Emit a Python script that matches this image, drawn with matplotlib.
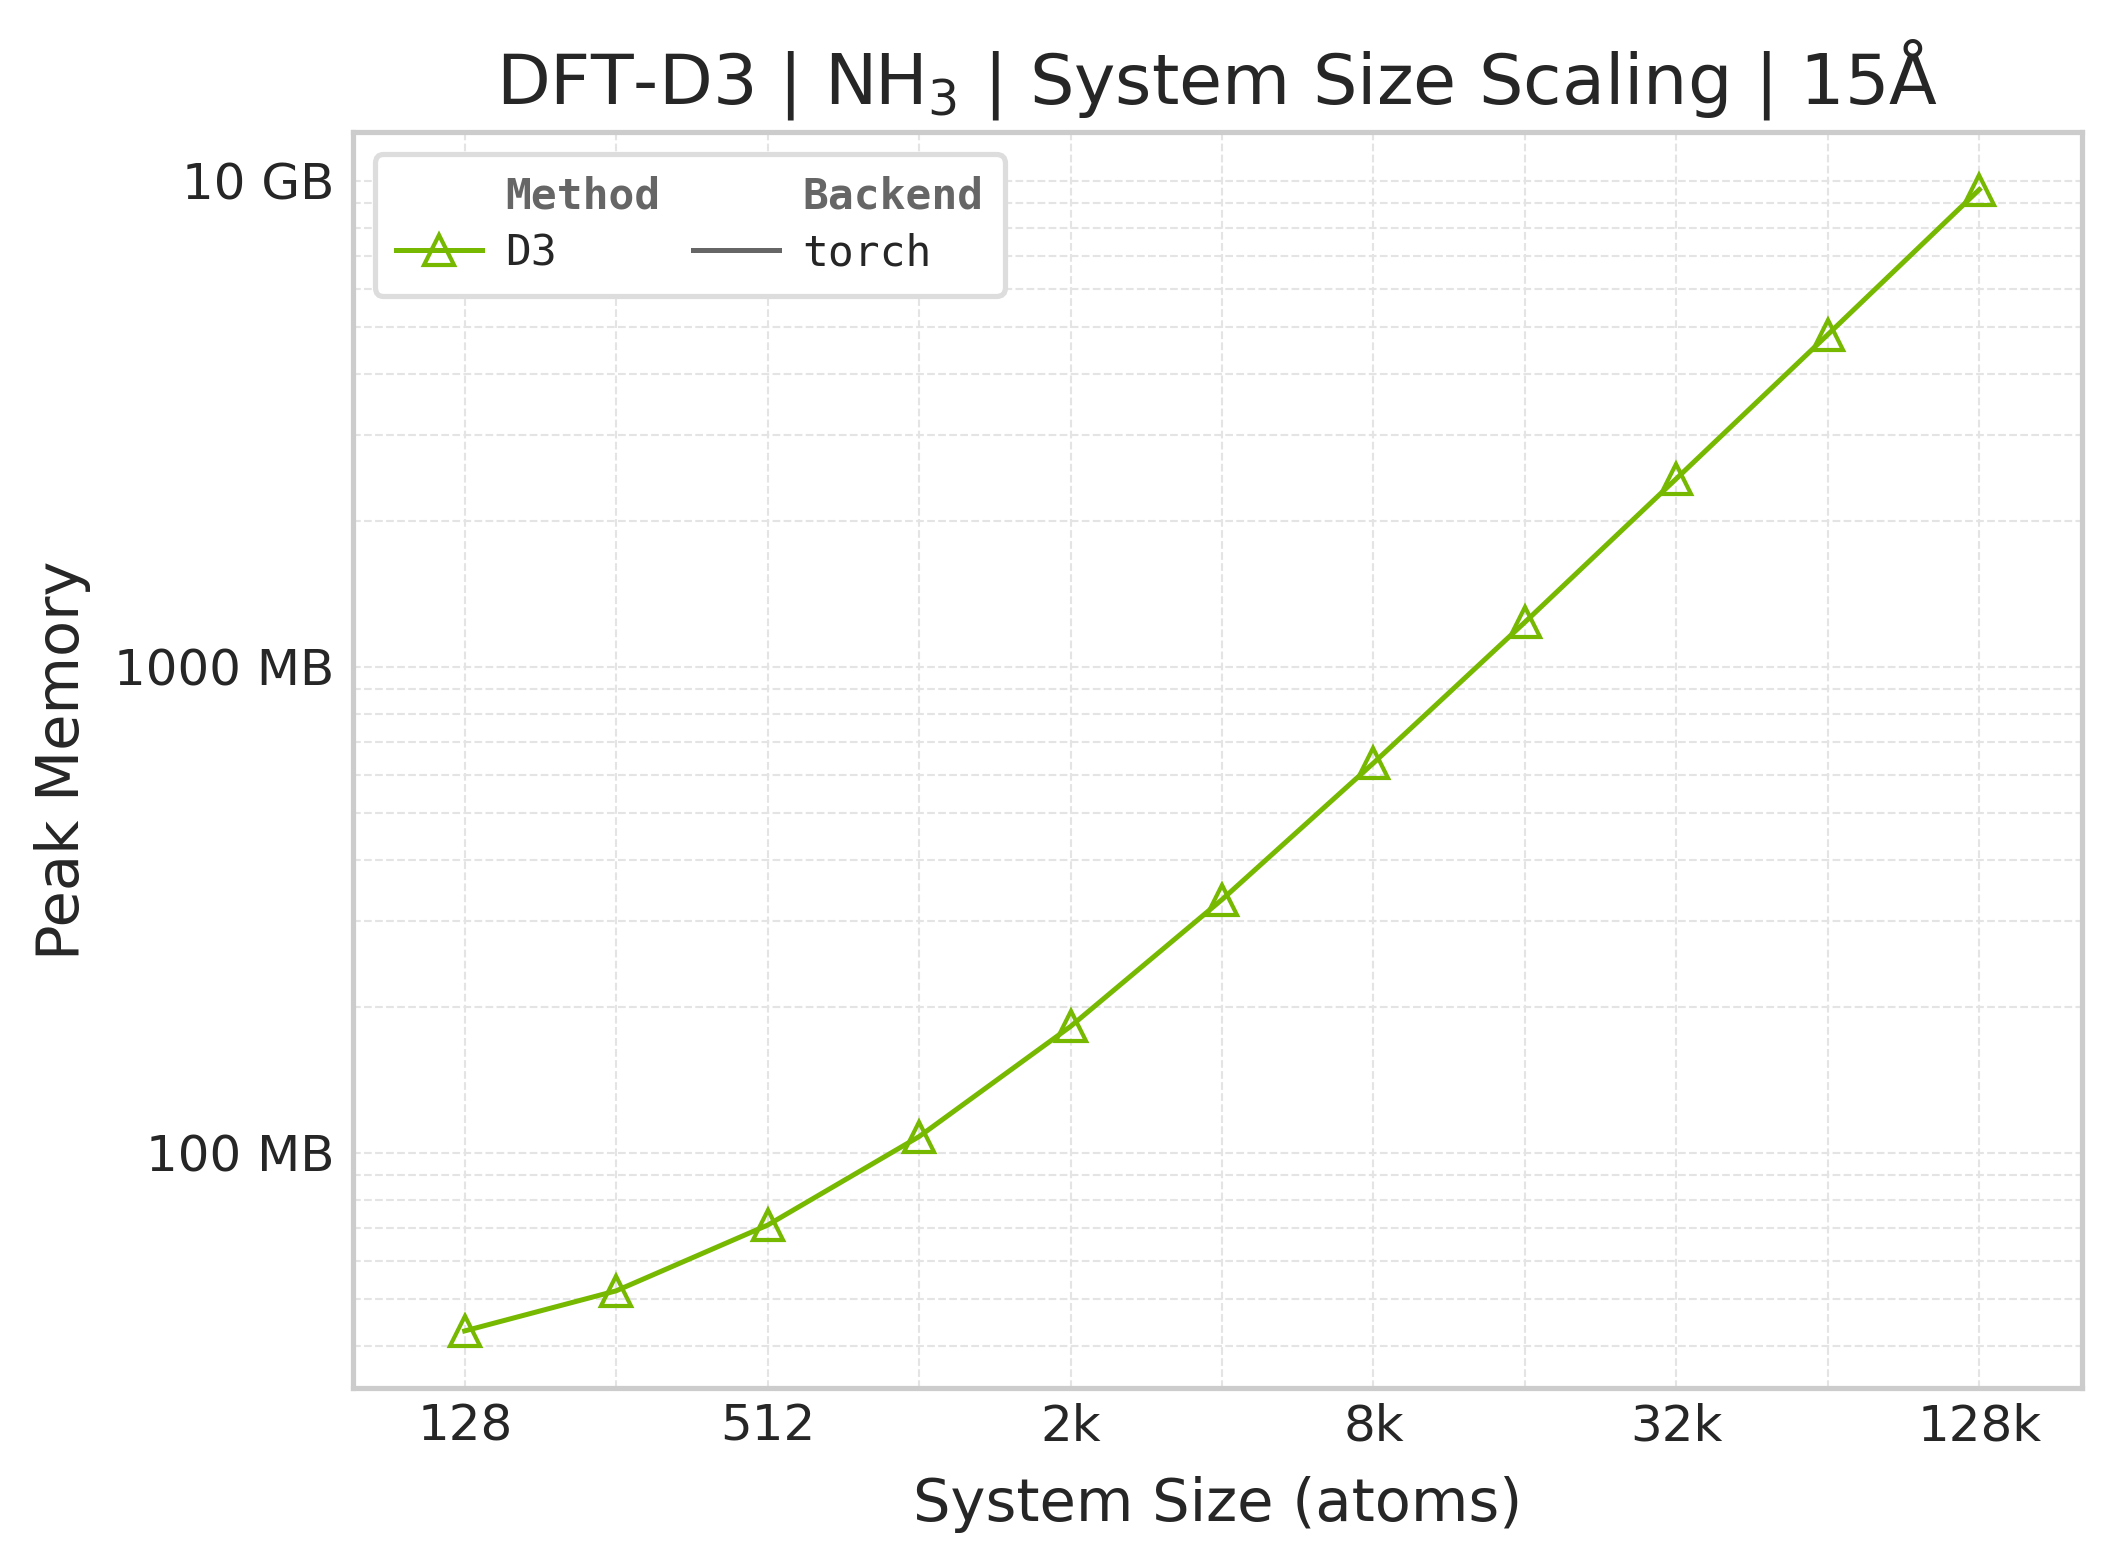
import matplotlib
matplotlib.use("Agg")
import matplotlib.pyplot as plt
from matplotlib.lines import Line2D
from matplotlib.ticker import FixedLocator, FuncFormatter, LogLocator, NullFormatter

# system sizes (atoms) and peak memory (MB)
atoms = [128, 256, 512, 1024, 2048, 4096, 8192, 16384, 32768, 65536, 131072]
peak_mb = [43, 52, 71, 108, 182, 332, 634, 1236, 2440, 4830, 9600]

major_x = [128, 512, 2048, 8192, 32768, 131072]
minor_x = [256, 1024, 4096, 16384, 65536]

GREEN = "#76b900"
GRAY = "#666666"


def fmt_atoms(v, pos):
    if v >= 1024:
        return f"{int(round(v / 1024))}k"
    return f"{int(round(v))}"


def fmt_mem(v, pos):
    if v >= 10000:
        return f"{v / 1000:g} GB"
    return f"{v:g} MB"


plt.rcParams["font.family"] = "DejaVu Sans"
plt.rcParams["text.color"] = "#262626"
plt.rcParams["axes.labelcolor"] = "#262626"
plt.rcParams["xtick.color"] = "#262626"
plt.rcParams["ytick.color"] = "#262626"

fig = plt.figure(figsize=(2118 / 300, 1568 / 300), dpi=300)
ax = fig.add_axes([0.1667, 0.1148, 0.8163, 0.8007])

ax.plot(atoms, peak_mb, color=GREEN, lw=1.2, marker="^", ms=7,
        mfc="none", mec=GREEN, mew=1.0, zorder=3)

ax.set_xscale("log", base=2)
ax.set_yscale("log")
ax.set_xlim(128 * 0.6, 131072 * 1.6)

ax.xaxis.set_major_locator(FixedLocator(major_x))
ax.xaxis.set_minor_locator(FixedLocator(minor_x))
ax.xaxis.set_major_formatter(FuncFormatter(fmt_atoms))
ax.xaxis.set_minor_formatter(NullFormatter())
ax.yaxis.set_major_locator(LogLocator(base=10))
ax.yaxis.set_minor_locator(LogLocator(base=10, subs=range(2, 10)))
ax.yaxis.set_major_formatter(FuncFormatter(fmt_mem))
ax.yaxis.set_minor_formatter(NullFormatter())

ax.tick_params(which="both", length=0, labelsize=12)
ax.tick_params(axis="x", pad=3.5)
ax.tick_params(axis="y", pad=4.5)
ax.grid(True, which="both", ls="--", lw=0.5, color="#e4e4e4")
ax.set_axisbelow(True)
for sp in ax.spines.values():
    sp.set_color("#cccccc")
    sp.set_linewidth(1.25)

ax.set_title("DFT-D3 | NH$_3$ | System Size Scaling | 15Å", fontsize=16.8, pad=7)
ax.set_xlabel("System Size (atoms)", fontsize=14.2, labelpad=6)
ax.set_ylabel("Peak Memory", fontsize=14.2, labelpad=5.5)

blank = Line2D([], [], linestyle="none", marker="none")
d3 = Line2D([], [], color=GREEN, lw=1.2, marker="^", ms=7, mfc="none", mec=GREEN, mew=1.0)
torch = Line2D([], [], color=GRAY, lw=1.2)
leg = ax.legend([blank, d3, blank, torch], ["Method", "D3", "Backend", "torch"],
                ncol=2, loc="upper left", prop={"family": "DejaVu Sans Mono", "size": 10.3},
                frameon=True, fancybox=True, framealpha=1.0, edgecolor="#dddddd",
                borderpad=0.5, columnspacing=0.75, handlelength=2.0,
                handletextpad=0.55, labelspacing=0.35)
leg.get_frame().set_linewidth(1.25)
for i in (0, 2):
    t = leg.get_texts()[i]
    t.set_fontweight("bold")
    t.set_color(GRAY)

fig.savefig("out.png", dpi=300)
